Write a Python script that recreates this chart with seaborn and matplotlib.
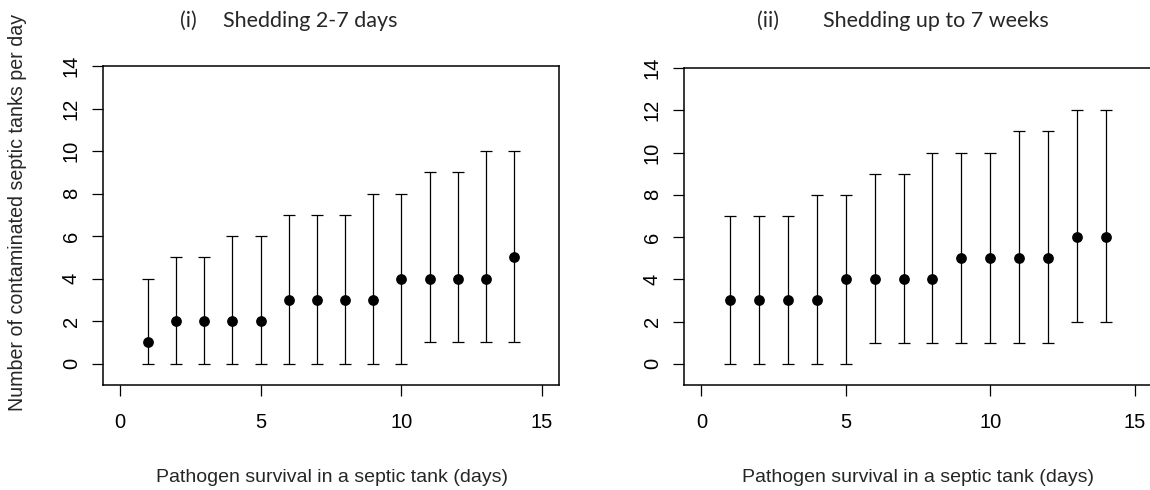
import numpy as np
import pandas as pd
import seaborn as sns
import matplotlib.pyplot as plt

# pathogen survival (days)
days = list(range(1, 15))

# (i) shedding 2-7 days
med_i = [1, 2, 2, 2, 2, 3, 3, 3, 3, 4, 4, 4, 4, 5]
low_i = [0, 0, 0, 0, 0, 0, 0, 0, 0, 0, 1, 1, 1, 1]
high_i = [4, 5, 5, 6, 6, 7, 7, 7, 8, 8, 9, 9, 10, 10]

# (ii) shedding up to 7 weeks
med_ii = [3, 3, 3, 3, 4, 4, 4, 4, 5, 5, 5, 5, 6, 6]
low_ii = [0, 0, 0, 0, 0, 1, 1, 1, 1, 1, 1, 1, 2, 2]
high_ii = [7, 7, 7, 8, 8, 9, 9, 10, 10, 10, 11, 11, 12, 12]

titles = [("(i)", "Shedding 2-7 days"), ("(ii)", "Shedding up to 7 weeks")]
xlabel = "Pathogen survival in a septic tank (days)"
ylabel = "Number of contaminated septic tanks per day"


def draw_panel(ax, med, low, high):
  df = pd.DataFrame({"day": days, "med": med, "low": low, "high": high})
  yerr = [df["med"] - df["low"], df["high"] - df["med"]]
  ax.errorbar(df["day"], df["med"], yerr=yerr, fmt="none", ecolor="black",
              elinewidth=0.9, capsize=4.5, capthick=0.9)
  sns.scatterplot(data=df, x="day", y="med", ax=ax, color="black", s=60,
                  edgecolor="black", linewidth=0, zorder=3)
  ax.set_xlim(-0.6, 15.6)
  ax.set_ylim(-1, 14)
  ax.set_xticks([0, 5, 10, 15])
  ax.set_yticks(range(0, 15, 2))
  ax.set_xlabel("")
  ax.set_ylabel("")
  for s in ax.spines.values():
    s.set_visible(True)
    s.set_color("black")
    s.set_linewidth(1.1)
  ax.tick_params(axis="both", direction="out", length=8, width=0.9,
                 bottom=True, left=True, labelsize=14.5, color="black",
                 labelcolor="black", pad=8)
  ax.tick_params(axis="x", pad=12)
  for lab in ax.get_yticklabels():
    lab.set_rotation(90)
    lab.set_va("center")


def main():
  sns.set_style("white")
  plt.rcParams['font.family'] = ['Liberation Sans', 'DejaVu Sans']

  fig = plt.figure(figsize=(11.5, 4.9), dpi=100)
  ax1 = fig.add_axes([103 / 1150, 105 / 490, 456 / 1150, 319 / 490])
  ax2 = fig.add_axes([684 / 1150, 105 / 490, 468 / 1150, 317 / 490])

  draw_panel(ax1, med_i, low_i, high_i)
  draw_panel(ax2, med_ii, low_ii, high_ii)

  # titles (Calibri-like)
  tfont = dict(family=["Lato", "DejaVu Sans"], fontsize=15.5, va="center")
  fig.text(180 / 1150, 1 - 21 / 490, titles[0][0], ha="left", **tfont)
  fig.text(223 / 1150, 1 - 21 / 490, titles[0][1], ha="left", **tfont)
  fig.text(757 / 1150, 1 - 21 / 490, titles[1][0], ha="left", **tfont)
  fig.text(823 / 1150, 1 - 21 / 490, titles[1][1], ha="left", **tfont)

  fig.text(332 / 1150, 1 - 477 / 490, xlabel, ha="center", va="center", fontsize=14)
  fig.text(918 / 1150, 1 - 477 / 490, xlabel, ha="center", va="center", fontsize=14)
  fig.text(18 / 1150, 1 - 212 / 490, ylabel, ha="center", va="center",
           rotation=90, fontsize=14.1)

  fig.savefig("out.png", dpi=100)


if __name__ == "__main__":
  main()
